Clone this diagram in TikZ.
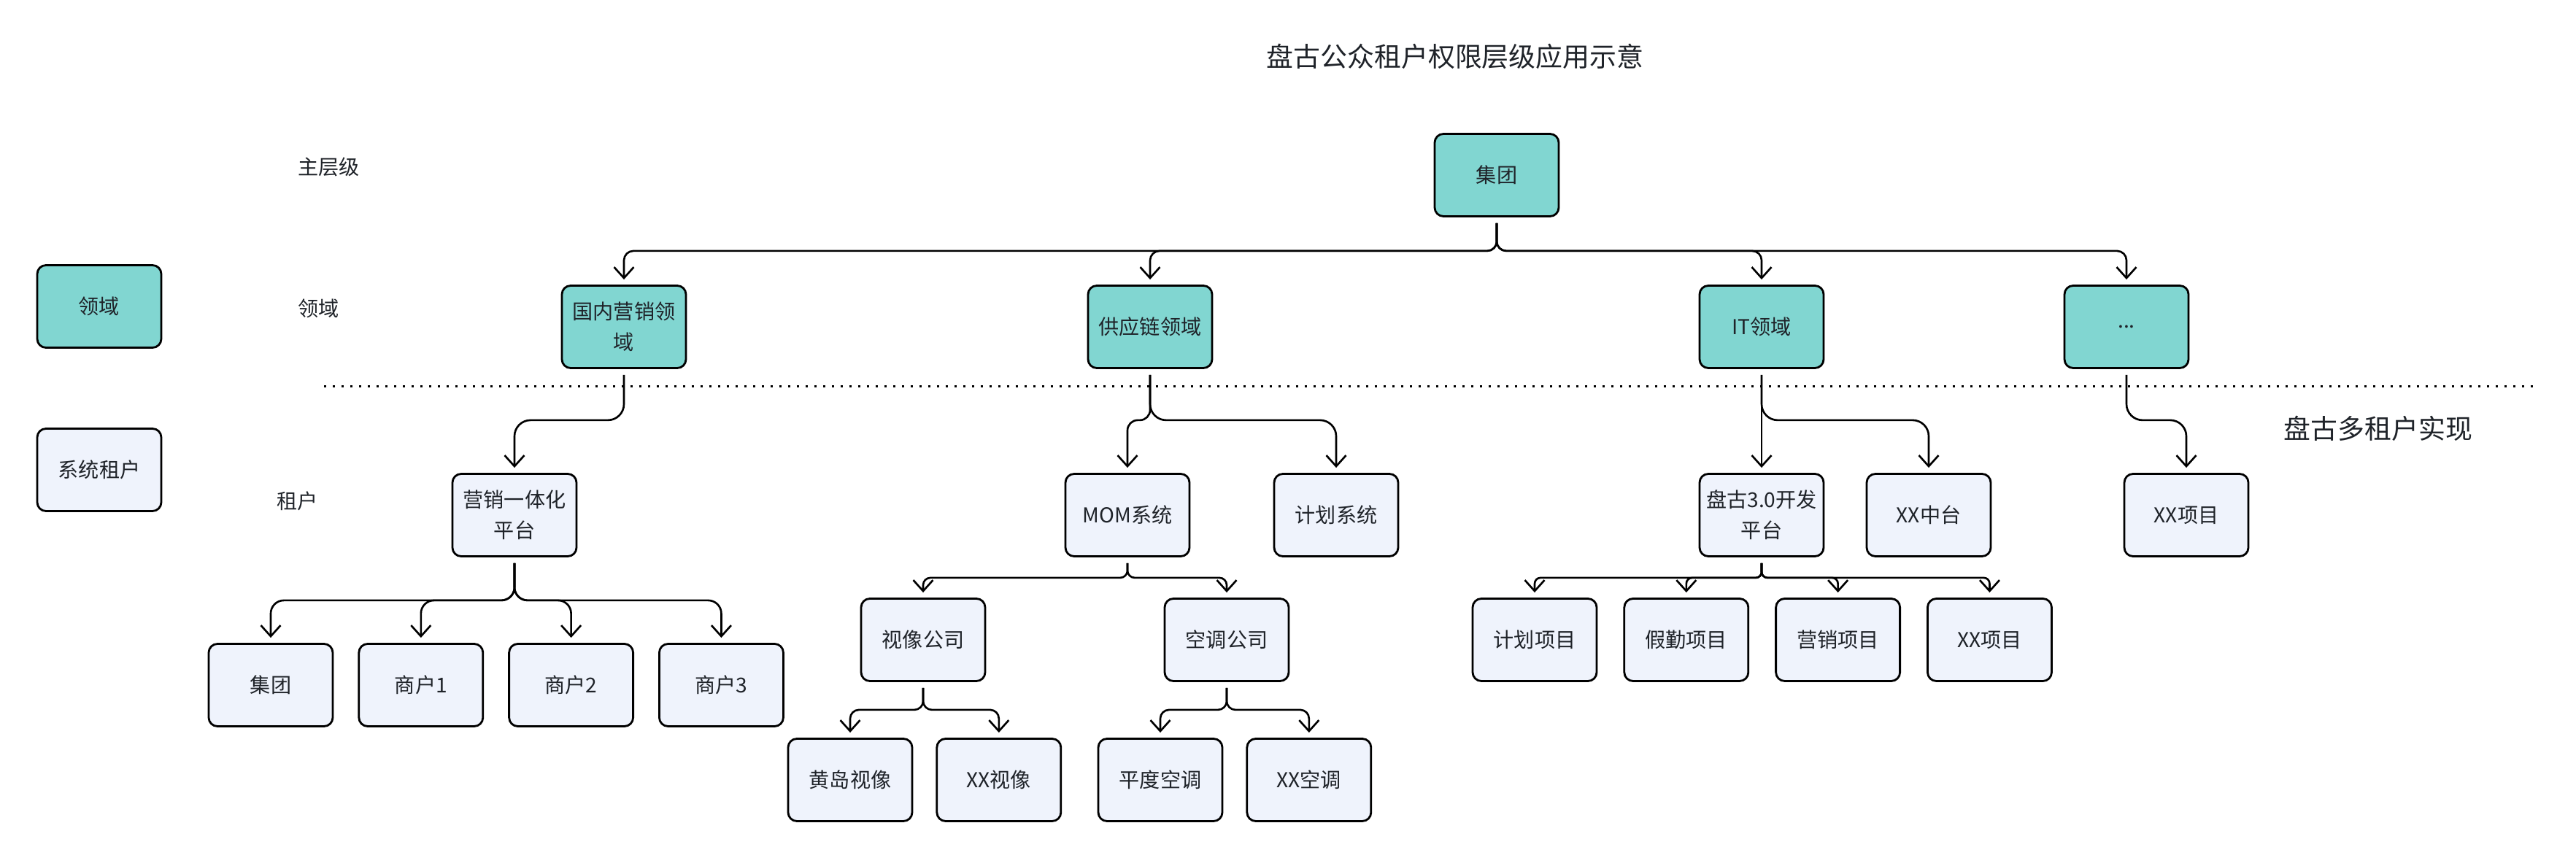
\documentclass[tikz,border=0pt]{standalone}
\usepackage{fontspec}
\setmainfont{Noto Sans CJK SC}
\usetikzlibrary{arrows.meta, positioning}
\definecolor{teal1}{RGB}{129,214,209}
\definecolor{blue0}{RGB}{239,243,252}
\definecolor{ink}{RGB}{31,35,41}

\begin{document}
\begin{tikzpicture}[
  box/.style={rectangle, draw=black, line width=0.8pt, rounded corners=0.12cm,
              minimum width=1.70cm, minimum height=1.13cm, inner sep=1pt,
              align=center, text=ink, font=\fontsize{8}{12}\selectfont},
  dombox/.style={box, fill=teal1},
  tenbox/.style={box, fill=blue0},
  conn/.style={-{Straight Barb[length=1.5mm, width=2.7mm]}, line width=0.75pt,
               shorten <=0.08cm, shorten >=0.07cm},
  lbl/.style={anchor=west, text=ink, font=\fontsize{8}{12}\selectfont},
  head/.style={text=ink, font=\fontsize{10.5}{13}\selectfont},
]
\useasboundingbox (0,0) rectangle (35.30,-11.76);

% titles and row labels
\node[head] (title) at (19.94,-0.77) {盘古公众租户权限层级应用示意};
\node[head] (impl) at (32.59,-5.87) {盘古多租户实现};
\node[lbl] (labMain) at (3.96,-2.29) {主层级};
\node[lbl] (labDom) at (3.96,-4.23) {领域};
\node[lbl] (labTen) at (3.67,-6.87) {租户};

% legend
\node[dombox] (legDom) at (1.36,-4.20) {领域};
\node[tenbox] (legTen) at (1.36,-6.44) {系统租户};

% separator
\coordinate (sepL) at (4.44,-5.30);
\coordinate (sepR) at (34.74,-5.30);
\draw[line width=0.03cm, dash pattern=on 0.03cm off 0.09cm] (sepL) -- (sepR);

% main level and domains
\node[dombox] (grp) at (20.51,-2.40) {集团};
\node[dombox] (dMkt) at (8.55,-4.48) {国内营销领\\域};
\node[dombox] (dSup) at (15.76,-4.48) {供应链领域};
\node[dombox] (dIT) at (24.14,-4.48) {IT领域};
\node[dombox] (dMore) at (29.14,-4.48) {...};

% tenants
\node[tenbox] (tMkt) at (7.05,-7.06) {营销一体化\\平台};
\node[tenbox] (tMom) at (15.45,-7.06) {MOM系统};
\node[tenbox] (tPlan) at (18.31,-7.06) {计划系统};
\node[tenbox] (tPangu) at (24.14,-7.06) {盘古3.0开发\\平台};
\node[tenbox] (tMid) at (26.43,-7.06) {XX中台};
\node[tenbox] (tProj) at (29.96,-7.06) {XX项目};

% marketing platform children
\node[tenbox] (mGrp) at (3.71,-9.39) {集团};
\node[tenbox, right=0.33cm of mGrp] (mShop1) {商户1};
\node[tenbox, right=0.33cm of mShop1] (mShop2) {商户2};
\node[tenbox, right=0.33cm of mShop2] (mShop3) {商户3};

% MOM children
\node[tenbox] (sVid) at (12.65,-8.77) {视像公司};
\node[tenbox] (sAc) at (16.81,-8.77) {空调公司};
\node[tenbox] (vHd) at (11.65,-10.69) {黄岛视像};
\node[tenbox, right=0.31cm of vHd] (vXx) {XX视像};
\node[tenbox] (aPd) at (15.90,-10.69) {平度空调};
\node[tenbox, right=0.31cm of aPd] (aXx) {XX空调};

% pangu platform children
\node[tenbox] (pPlan) at (21.03,-8.77) {计划项目};
\node[tenbox, right=0.35cm of pPlan] (pLeave) {假勤项目};
\node[tenbox, right=0.35cm of pLeave] (pMkt) {营销项目};
\node[tenbox, right=0.35cm of pMkt] (pXx) {XX项目};

% connectors
\draw[conn, rounded corners=0.13cm] (grp.south) -- ++(0,-0.46) -| (dMkt.north);
\draw[conn, rounded corners=0.13cm] (grp.south) -- ++(0,-0.46) -| (dSup.north);
\draw[conn, rounded corners=0.13cm] (grp.south) -- ++(0,-0.46) -| (dIT.north);
\draw[conn, rounded corners=0.13cm] (grp.south) -- ++(0,-0.46) -| (dMore.north);

\draw[conn, rounded corners=0.22cm] (dMkt.south) -- ++(0,-0.70) -| (tMkt.north);
\draw[conn, rounded corners=0.14cm] (dSup.south) -- ++(0,-0.70) -| (tMom.north);
\draw[conn, rounded corners=0.22cm] (dSup.south) -- ++(0,-0.70) -| (tPlan.north);
\draw[conn] (dIT.south) -- (tPangu.north);
\draw[conn, rounded corners=0.22cm] (dIT.south) -- ++(0,-0.70) -| (tMid.north);
\draw[conn, rounded corners=0.22cm] (dMore.south) -- ++(0,-0.70) -| (tProj.north);

\draw[conn, rounded corners=0.18cm] (tMkt.south) -- ++(0,-0.59) -| (mGrp.north);
\draw[conn, rounded corners=0.18cm] (tMkt.south) -- ++(0,-0.59) -| (mShop1.north);
\draw[conn, rounded corners=0.18cm] (tMkt.south) -- ++(0,-0.59) -| (mShop2.north);
\draw[conn, rounded corners=0.18cm] (tMkt.south) -- ++(0,-0.59) -| (mShop3.north);

\draw[conn, rounded corners=0.1cm] (tMom.south) -- ++(0,-0.28) -| (sVid.north);
\draw[conn, rounded corners=0.1cm] (tMom.south) -- ++(0,-0.28) -| (sAc.north);
\draw[conn, rounded corners=0.12cm] (sVid.south) -- ++(0,-0.38) -| (vHd.north);
\draw[conn, rounded corners=0.12cm] (sVid.south) -- ++(0,-0.38) -| (vXx.north);
\draw[conn, rounded corners=0.12cm] (sAc.south) -- ++(0,-0.38) -| (aPd.north);
\draw[conn, rounded corners=0.12cm] (sAc.south) -- ++(0,-0.38) -| (aXx.north);

\draw[conn, rounded corners=0.08cm] (tPangu.south) -- ++(0,-0.28) -| (pPlan.north);
\draw[conn, rounded corners=0.08cm] (tPangu.south) -- ++(0,-0.28) -| (pLeave.north);
\draw[conn, rounded corners=0.08cm] (tPangu.south) -- ++(0,-0.28) -| (pMkt.north);
\draw[conn, rounded corners=0.08cm] (tPangu.south) -- ++(0,-0.28) -| (pXx.north);

\end{tikzpicture}
\end{document}
